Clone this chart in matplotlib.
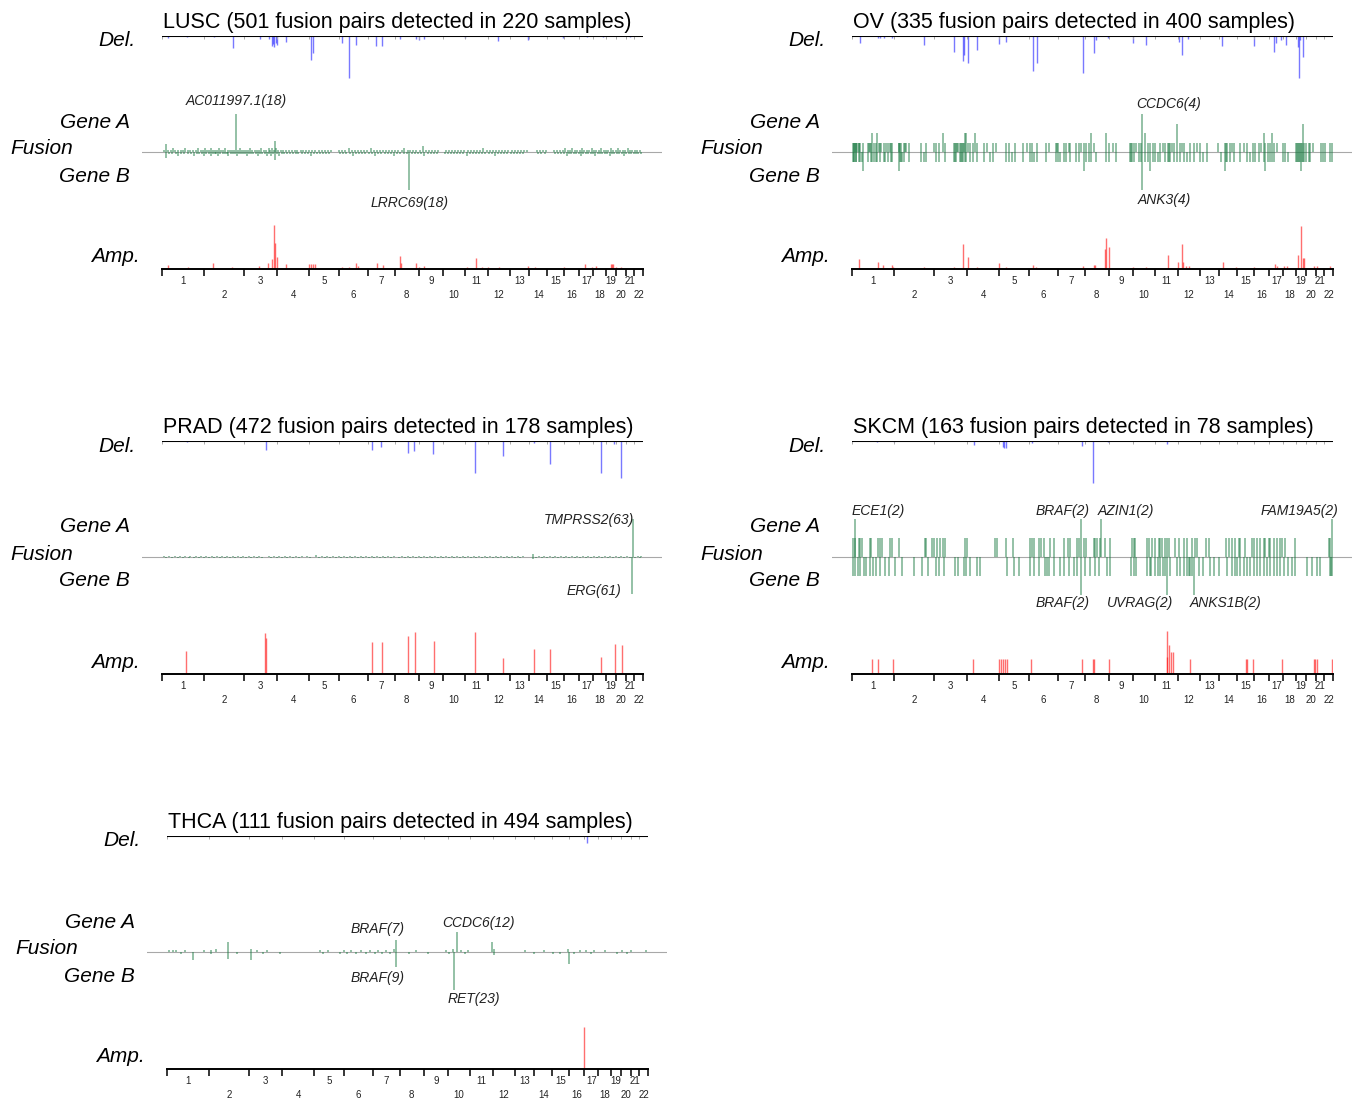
import numpy as np
import matplotlib
matplotlib.use("Agg")
import matplotlib.pyplot as plt

plt.rcParams['font.family'] = ['Liberation Sans', 'DejaVu Sans']

W, H = 1360, 1104

# hg19 chromosome lengths (Mb)
chrom_names = [str(i) for i in range(1, 23)]
chrom_len = [249.25, 243.20, 198.02, 191.15, 180.92, 171.12, 159.14, 146.36,
             141.21, 135.53, 135.01, 133.85, 115.17, 107.35, 102.53, 90.35,
             81.20, 78.08, 59.13, 63.03, 48.13, 51.30]

# ---------------- LUSC ----------------
lusc_title = "LUSC (501 fusion pairs detected in 220 samples)"
lusc_del = [(36, 2), (150, 1), (309, 1), (423, 12), (584, 3), (638, 3), (658, 10), (665, 8),
            (672, 11), (680, 7), (688, 9), (744, 6), (893, 24), (907, 17), (1077, 7), (1119, 42),
            (1163, 9), (1282, 10), (1320, 10), (1426, 3), (1521, 3), (1541, 4), (1569, 3),
            (1815, 2), (2014, 5), (2193, 4), (2403, 2), (2543, 1), (2643, 1), (2803, 1)]
lusc_amp = [(38, 4), (156, 2), (308, 6), (421, 2), (580, 3), (636, 6), (656, 10), (669, 44),
            (674, 26), (686, 12), (744, 5), (878, 5), (890, 5), (903, 5), (916, 5), (1077, 2),
            (1118, 2), (1161, 6), (1173, 3), (1287, 6), (1325, 4), (1425, 13), (1431, 6),
            (1521, 6), (1539, 2), (1572, 3), (1824, 2), (1880, 11), (1918, 2), (1950, 2),
            (2018, 2), (2195, 3), (2233, 2), (2409, 2), (2536, 5), (2573, 2), (2599, 3),
            (2687, 5), (2694, 5), (2700, 5), (2717, 2), (2750, 2)]
lusc_gene_a = [(10, 1), (24, 4), (37, 1), (52, 1), (66, 2), (79, 1), (95, 1), (112, 1), (126, 1),
               (141, 2), (158, 1), (171, 1), (189, 1), (204, 1), (219, 2), (233, 1), (248, 1),
               (259, 2), (271, 1), (284, 1), (296, 2), (309, 1), (320, 1), (333, 1), (345, 2),
               (356, 1), (369, 1), (381, 2), (394, 1), (407, 1), (420, 1), (432, 1), (443, 18),
               (455, 1), (467, 2), (478, 1), (490, 1), (503, 1), (517, 1), (529, 2), (541, 1),
               (556, 1), (568, 1), (581, 1), (597, 2), (612, 1), (626, 1), (640, 2), (651, 1),
               (663, 2), (675, 1), (680, 5), (686, 2), (699, 1), (714, 1), (729, 1), (746, 1),
               (762, 1), (779, 1), (797, 1), (813, 1), (832, 1), (848, 1), (866, 1), (884, 1),
               (903, 1), (921, 1), (940, 1), (958, 1), (977, 1), (996, 1), (1013, 1), (1062, 1),
               (1081, 1), (1099, 1), (1121, 2), (1140, 1), (1158, 1), (1177, 1), (1196, 1),
               (1214, 1), (1233, 1), (1252, 2), (1271, 1), (1290, 1), (1309, 1), (1327, 1),
               (1346, 1), (1364, 1), (1383, 1), (1401, 1), (1419, 1), (1438, 1), (1455, 2),
               (1474, 1), (1490, 1), (1509, 1), (1527, 1), (1546, 1), (1568, 3), (1584, 1),
               (1603, 1), (1622, 1), (1640, 1), (1659, 1), (1702, 1), (1721, 1), (1740, 1),
               (1758, 1), (1777, 1), (1796, 1), (1815, 1), (1834, 1), (1853, 1), (1871, 1),
               (1890, 1), (1909, 1), (1929, 2), (1948, 1), (1966, 1), (1985, 1), (2004, 1),
               (2023, 1), (2041, 1), (2060, 1), (2079, 1), (2098, 1), (2117, 1), (2136, 1),
               (2154, 1), (2173, 1), (2191, 1), (2250, 1), (2268, 1), (2287, 1), (2305, 1),
               (2352, 1), (2370, 1), (2388, 1), (2404, 1), (2420, 2), (2435, 1), (2449, 1),
               (2463, 2), (2478, 1), (2492, 1), (2507, 1), (2521, 2), (2535, 1), (2550, 1),
               (2564, 1), (2579, 2), (2593, 1), (2607, 1), (2621, 1), (2636, 2), (2650, 1),
               (2664, 1), (2679, 1), (2693, 2), (2708, 1), (2722, 1), (2736, 2), (2751, 1),
               (2765, 1), (2780, 1), (2794, 2), (2808, 1), (2823, 1), (2837, 1), (2851, 1),
               (2866, 1)]
lusc_gene_b = [(24, 3), (43, 1), (61, 1), (83, 1), (99, 2), (117, 1), (133, 1), (154, 1), (176, 1),
               (193, 2), (210, 1), (224, 1), (241, 1), (255, 2), (267, 1), (280, 1), (293, 2),
               (305, 1), (316, 1), (327, 1), (339, 2), (351, 1), (364, 1), (376, 1), (389, 1),
               (399, 2), (412, 1), (425, 1), (437, 1), (449, 2), (462, 1), (474, 1), (486, 1),
               (499, 1), (513, 2), (525, 1), (536, 1), (549, 1), (562, 1), (575, 2), (589, 1),
               (603, 1), (617, 1), (631, 2), (644, 1), (657, 2), (668, 1), (680, 4), (691, 1),
               (704, 2), (718, 1), (735, 1), (751, 1), (768, 1), (785, 1), (803, 1), (819, 1),
               (838, 1), (857, 1), (875, 1), (893, 2), (911, 1), (930, 1), (948, 1), (967, 1),
               (986, 1), (1005, 1), (1068, 1), (1087, 1), (1106, 1), (1126, 1), (1145, 2),
               (1164, 1), (1183, 1), (1202, 1), (1221, 1), (1240, 1), (1259, 1), (1279, 2),
               (1298, 1), (1317, 1), (1336, 1), (1355, 1), (1374, 1), (1393, 2), (1412, 1),
               (1431, 1), (1450, 1), (1468, 1), (1485, 18), (1500, 1), (1518, 1), (1537, 1),
               (1556, 1), (1575, 2), (1594, 1), (1612, 1), (1631, 1), (1650, 1), (1696, 1),
               (1715, 1), (1734, 1), (1752, 1), (1771, 1), (1790, 1), (1809, 1), (1828, 2),
               (1847, 1), (1865, 1), (1884, 1), (1903, 1), (1922, 1), (1941, 1), (1960, 1),
               (1979, 1), (1998, 2), (2016, 1), (2035, 1), (2054, 1), (2073, 1), (2092, 1),
               (2111, 1), (2130, 1), (2149, 1), (2168, 1), (2256, 1), (2275, 1), (2298, 1),
               (2359, 1), (2378, 1), (2396, 1), (2413, 1), (2428, 2), (2442, 1), (2457, 1),
               (2471, 1), (2485, 1), (2500, 1), (2514, 2), (2528, 1), (2543, 1), (2557, 1),
               (2572, 1), (2586, 1), (2600, 2), (2614, 1), (2629, 1), (2643, 1), (2657, 1),
               (2672, 1), (2686, 2), (2700, 1), (2715, 1), (2729, 1), (2744, 1), (2758, 1),
               (2772, 2), (2787, 1), (2801, 1), (2815, 1), (2830, 1), (2844, 1), (2858, 1),
               (2873, 1)]
lusc_labels = [("AC011997.1", 443, 18, "A"), ("LRRC69", 1485, 18, "B")]

# ---------------- OV ----------------
ov_title = "OV (335 fusion pairs detected in 400 samples)"
ov_del = [(46, 7), (156, 2), (168, 2), (190, 2), (239, 2), (429, 9), (612, 16), (664, 25),
          (672, 19), (694, 27), (748, 14), (883, 8), (923, 6), (1087, 35), (1111, 27),
          (1386, 37), (1452, 17), (1460, 4), (1535, 2), (1685, 7), (1761, 9), (1960, 6),
          (1974, 19), (2014, 3), (2219, 10), (2407, 10), (2528, 16), (2542, 7), (2572, 4),
          (2602, 9), (2672, 11), (2678, 42), (2686, 4), (2702, 21)]
ov_amp = [(43, 10), (156, 7), (184, 4), (240, 4), (247, 2), (429, 2), (613, 2), (664, 25),
          (694, 12), (749, 2), (883, 6), (921, 2), (1085, 4), (1105, 2), (1383, 3), (1451, 4),
          (1458, 4), (1516, 20), (1524, 31), (1539, 22), (1685, 2), (1761, 2), (1895, 14),
          (1955, 7), (1976, 25), (1981, 7), (2001, 3), (2021, 3), (2223, 7), (2303, 2),
          (2409, 2), (2536, 5), (2543, 3), (2586, 3), (2606, 3), (2674, 14), (2687, 43),
          (2700, 11), (2707, 11), (2770, 3), (2783, 3), (2864, 3)]
ov_gene_a = [(6, 1), (10, 1), (14, 1), (18, 1), (22, 1), (26, 1), (30, 1), (40, 1), (44, 1),
             (50, 1), (66, 1), (94, 1), (100, 1), (106, 1), (114, 1),
             (120, 2), (130, 1), (144, 1), (150, 2), (160, 1), (170, 1), (176, 1), (190, 1),
             (206, 1), (214, 1), (226, 1), (232, 1),
             (240, 1), (280, 1), (284, 1), (290, 1), (296, 1), (314, 1), (320, 1), (326, 1),
             (340, 1), (414, 1), (446, 1),
             (494, 1), (506, 1), (520, 1), (546, 2), (560, 1), (614, 1), (620, 1), (626, 1),
             (630, 1), (636, 1), (646, 1), (656, 1), (660, 1), (666, 1), (672, 1), (676, 2),
             (686, 2), (696, 1), (710, 1), (726, 1),
             (740, 2), (750, 1), (794, 1), (810, 1), (846, 1), (866, 1), (926, 1), (940, 1),
             (980, 1), (1026, 1), (1050, 1), (1066, 1), (1080, 1), (1110, 1), (1166, 1),
             (1180, 1), (1226, 1), (1230, 1), (1234, 1), (1270, 1), (1286, 1), (1300, 1),
             (1310, 1), (1346, 1), (1360, 1), (1374, 1), (1390, 1), (1406, 1), (1420, 1),
             (1436, 2), (1450, 1), (1526, 2), (1540, 1), (1566, 1), (1586, 1), (1670, 1),
             (1676, 1), (1680, 1), (1690, 1), (1706, 1), (1720, 1), (1734, 1), (1742, 4),
             (1760, 2), (1774, 1), (1790, 1), (1806, 1), (1820, 1), (1850, 1), (1866, 1),
             (1880, 1), (1894, 1), (1900, 1), (1906, 1), (1920, 1), (1934, 1), (1950, 3),
             (1966, 1), (1980, 1), (1994, 1), (2026, 1), (2054, 1), (2070, 1), (2090, 1),
             (2130, 1), (2194, 1), (2240, 1), (2246, 1), (2250, 1), (2266, 1), (2280, 1),
             (2294, 1), (2326, 1), (2350, 1), (2370, 1), (2406, 1), (2420, 1), (2440, 1),
             (2454, 1), (2470, 2), (2480, 1), (2494, 1), (2510, 1), (2520, 2), (2534, 1),
             (2550, 1), (2586, 1), (2600, 1), (2666, 1), (2670, 1), (2674, 1), (2680, 1),
             (2686, 1), (2694, 1), (2700, 1), (2706, 3), (2714, 1), (2726, 1), (2740, 1),
             (2750, 1), (2766, 1), (2814, 1), (2826, 1), (2840, 1), (2866, 1), (2880, 1)]
ov_gene_b = [(6, 1), (10, 1), (14, 1), (22, 1), (26, 1), (40, 1), (50, 1), (60, 1), (66, 2),
             (94, 1), (114, 1), (120, 1), (130, 1), (144, 1), (150, 1), (170, 1), (190, 1),
             (200, 1), (214, 1), (232, 1), (240, 1), (280, 2), (290, 1), (296, 1), (300, 1),
             (314, 1), (340, 1), (414, 1), (430, 1), (446, 1), (506, 1), (520, 1), (560, 1),
             (614, 1), (620, 1), (626, 1), (646, 1), (656, 1), (660, 1), (666, 1), (676, 1),
             (686, 1), (710, 1), (726, 1), (750, 1), (794, 1), (826, 1), (846, 1), (926, 1),
             (940, 1), (960, 1), (980, 1), (1026, 1), (1066, 1), (1080, 1), (1094, 1),
             (1110, 1), (1166, 1), (1226, 1), (1234, 1), (1250, 1), (1270, 1), (1286, 1),
             (1310, 1), (1346, 1), (1360, 1), (1390, 2), (1406, 1), (1420, 1), (1436, 1),
             (1466, 1), (1526, 1), (1540, 1), (1586, 1), (1670, 1), (1676, 1), (1680, 1),
             (1690, 1), (1720, 1), (1734, 1), (1742, 4), (1760, 1), (1774, 1), (1790, 2),
             (1806, 1), (1820, 1), (1834, 1), (1850, 1), (1880, 1), (1894, 1), (1900, 1),
             (1906, 1), (1934, 1), (1950, 1), (1966, 1), (1994, 1), (2010, 1), (2026, 1),
             (2054, 1), (2090, 1), (2106, 1), (2130, 1), (2214, 1), (2240, 2), (2246, 1),
             (2250, 1), (2266, 1), (2294, 1), (2326, 1), (2370, 1), (2386, 1), (2406, 1),
             (2420, 1), (2440, 1), (2470, 1), (2480, 2), (2494, 1), (2510, 1), (2520, 1),
             (2534, 1), (2586, 1), (2600, 1), (2614, 1), (2666, 1), (2670, 1), (2674, 1),
             (2680, 1), (2686, 1), (2694, 2), (2700, 1), (2706, 1), (2714, 1), (2726, 1),
             (2740, 1), (2750, 1), (2814, 1), (2826, 1), (2840, 1), (2866, 1), (2880, 1)]
ov_labels = [("CCDC6", 1742, 4, "A"), ("ANK3", 1742, 4, "B")]

# ---------------- PRAD ----------------
prad_title = "PRAD (472 fusion pairs detected in 178 samples)"
prad_del = [(150, 1), (624, 9), (1260, 9), (1310, 6), (1476, 12), (1510, 10), (1625, 13),
            (1874, 32), (2044, 15), (2229, 2), (2323, 23), (2632, 32), (2706, 3), (2752, 37)]
prad_amp = [(146, 23), (616, 41), (621, 36), (1256, 32), (1315, 32), (1476, 38), (1514, 42),
            (1627, 33), (1875, 42), (2044, 16), (2228, 25), (2326, 25), (2629, 17),
            (2712, 30), (2753, 29)]
prad_gene_a = [(12, 1), (45, 2), (78, 1), (110, 1), (139, 2), (171, 1), (205, 1), (236, 2),
               (262, 1), (298, 1), (330, 2), (361, 1), (392, 1), (425, 2), (457, 1), (489, 1),
               (520, 1), (553, 2), (585, 1), (640, 1), (672, 2), (705, 1), (738, 1), (770, 1),
               (805, 1), (843, 1), (870, 1), (927, 3), (960, 1), (993, 1), (1028, 2), (1061, 1),
               (1094, 1), (1127, 1), (1160, 2), (1193, 1), (1226, 1), (1259, 1), (1292, 2),
               (1325, 1), (1358, 1), (1391, 1), (1440, 1), (1474, 2), (1507, 1), (1540, 1),
               (1573, 1), (1606, 2), (1639, 1), (1672, 1), (1705, 1), (1738, 2), (1771, 1),
               (1804, 1), (1837, 1), (1870, 1), (1903, 2), (1936, 1), (1969, 1), (2002, 1),
               (2035, 1), (2068, 2), (2101, 1), (2134, 1), (2167, 1), (2229, 5), (2262, 1),
               (2295, 1), (2328, 2), (2361, 1), (2394, 1), (2427, 1), (2460, 2), (2493, 1),
               (2526, 1), (2559, 1), (2592, 2), (2625, 1), (2658, 1), (2691, 1), (2724, 2),
               (2757, 1), (2790, 1), (2824, 63), (2855, 1), (2876, 1)]
prad_gene_b = [(25, 1), (60, 1), (94, 2), (127, 1), (160, 1), (190, 1), (222, 2), (250, 1),
               (284, 1), (315, 1), (347, 2), (378, 1), (409, 1), (441, 1), (473, 2), (505, 1),
               (536, 1), (569, 1), (600, 1), (656, 2), (688, 1), (720, 1), (752, 2), (787, 1),
               (824, 1), (887, 1), (944, 1), (977, 2), (1011, 1), (1044, 1), (1077, 1),
               (1110, 2), (1143, 1), (1176, 1), (1209, 1), (1242, 2), (1275, 1), (1308, 1),
               (1341, 1), (1374, 1), (1424, 2), (1457, 1), (1490, 1), (1523, 1), (1556, 2),
               (1589, 1), (1622, 1), (1655, 1), (1688, 1), (1721, 2), (1754, 1), (1787, 1),
               (1820, 1), (1853, 2), (1886, 1), (1919, 1), (1952, 1), (1985, 1), (2018, 2),
               (2051, 1), (2084, 1), (2117, 1), (2150, 1), (2229, 4), (2245, 1), (2278, 2),
               (2311, 1), (2344, 1), (2377, 1), (2410, 1), (2443, 2), (2476, 1), (2509, 1),
               (2542, 1), (2575, 1), (2608, 2), (2641, 1), (2674, 1), (2707, 1), (2740, 1),
               (2773, 2), (2806, 1), (2821, 61), (2840, 1), (2868, 1)]
prad_labels = [("TMPRSS2", 2824, 63, "A"), ("ERG", 2821, 61, "B")]

# ---------------- SKCM ----------------
skcm_title = "SKCM (163 fusion pairs detected in 78 samples)"
skcm_del = [(150, 1), (249, 1), (728, 4), (903, 6), (913, 7), (923, 7), (1077, 2), (1376, 5),
            (1446, 42), (1535, 1), (1884, 3)]
skcm_amp = [(119, 15), (154, 15), (247, 15), (727, 15), (883, 15), (893, 15), (903, 15),
            (918, 15), (928, 15), (1072, 15), (1378, 15), (1443, 15), (1448, 15), (1539, 15),
            (1885, 17), (1889, 43), (1900, 29), (1910, 22), (1920, 22), (2023, 15), (2359, 15),
            (2366, 15), (2402, 15), (2578, 15), (2768, 15), (2775, 15), (2783, 15), (2874, 15)]
skcm_gene_a = [(6, 1), (16, 1), (21, 2), (40, 1), (50, 1), (60, 1), (106, 1), (114, 1),
               (154, 1), (166, 1), (180, 1), (226, 1), (240, 1), (280, 1), (436, 1), (446, 1),
               (480, 1), (494, 1), (510, 1), (530, 1), (546, 1), (560, 1), (680, 1), (690, 1),
               (860, 1), (870, 1), (924, 1), (966, 1), (1066, 1), (1080, 1), (1094, 1),
               (1120, 1), (1134, 1), (1150, 1), (1186, 1), (1210, 1), (1270, 1), (1296, 1),
               (1310, 1), (1350, 1), (1360, 1), (1374, 2), (1390, 1), (1406, 1), (1450, 1),
               (1460, 1), (1470, 1), (1486, 1), (1497, 2), (1520, 1), (1550, 1), (1680, 1),
               (1690, 1), (1700, 1), (1770, 1), (1780, 1), (1800, 1), (1820, 1), (1840, 1),
               (1850, 1), (1860, 1), (1880, 1), (1890, 1), (1900, 1), (1940, 1), (1960, 1),
               (1990, 1), (2010, 1), (2040, 1), (2060, 1), (2070, 1), (2126, 1), (2140, 1),
               (2246, 1), (2260, 1), (2280, 1), (2300, 1), (2320, 1), (2330, 1), (2360, 1),
               (2400, 1), (2410, 1), (2430, 1), (2450, 1), (2470, 1), (2480, 1), (2500, 1),
               (2510, 1), (2530, 1), (2550, 1), (2570, 1), (2580, 1), (2600, 1), (2660, 1),
               (2860, 1), (2868, 1), (2878, 2)]
skcm_gene_b = [(6, 1), (20, 1), (34, 1), (50, 1), (70, 1), (86, 1), (106, 1), (126, 1),
               (146, 1), (170, 1), (200, 1), (220, 1), (260, 1), (300, 1), (370, 1), (420, 1),
               (454, 1), (506, 1), (520, 1), (550, 1), (620, 1), (634, 1), (670, 1), (686, 1),
               (710, 1), (750, 1), (770, 1), (930, 1), (970, 1), (1000, 1), (1070, 1),
               (1090, 1), (1120, 1), (1160, 1), (1170, 1), (1180, 1), (1210, 1), (1250, 1),
               (1270, 1), (1300, 1), (1330, 1), (1350, 1), (1374, 2), (1400, 1), (1430, 1),
               (1460, 1), (1480, 1), (1530, 1), (1546, 1), (1676, 1), (1690, 1), (1706, 1),
               (1770, 1), (1786, 1), (1794, 1), (1820, 1), (1834, 1), (1850, 1), (1866, 1),
               (1880, 1), (1891, 2), (1910, 1), (1950, 1), (1970, 1), (1990, 1), (2010, 1),
               (2020, 1), (2030, 1), (2040, 1), (2050, 2), (2080, 1), (2106, 1), (2150, 1),
               (2170, 1), (2200, 1), (2250, 1), (2280, 1), (2300, 1), (2310, 1), (2330, 1),
               (2350, 1), (2370, 1), (2390, 1), (2410, 1), (2430, 1), (2450, 1), (2470, 1),
               (2490, 1), (2510, 1), (2530, 1), (2550, 1), (2570, 1), (2590, 1), (2614, 1),
               (2640, 1), (2660, 1), (2730, 1), (2760, 1), (2790, 1), (2810, 1), (2870, 1),
               (2875, 1), (2880, 1)]
skcm_labels = [("ECE1", 21, 2, "A"), ("BRAF", 1374, 2, "A"), ("AZIN1", 1497, 2, "A"),
               ("FAM19A5", 2878, 2, "A"), ("BRAF", 1374, 2, "B"), ("UVRAG", 1891, 2, "B"),
               ("ANKS1B", 2050, 2, "B")]

# ---------------- THCA ----------------
thca_title = "THCA (111 fusion pairs detected in 494 samples)"
thca_del = [(2513, 7)]
thca_amp = [(2497, 42)]
thca_gene_a = [(15, 1), (35, 1), (56, 1), (108, 1), (222, 1), (263, 1), (294, 2), (367, 6),
               (502, 2), (543, 1), (601, 1), (916, 1), (968, 1), (1061, 1), (1107, 1),
               (1165, 1), (1217, 1), (1269, 1), (1314, 1), (1362, 2), (1374, 7), (1497, 1),
               (1673, 1), (1714, 2), (1742, 12), (1766, 1), (1808, 1), (1953, 6), (1963, 2),
               (2150, 1), (2264, 1), (2405, 2), (2481, 1), (2513, 1), (2564, 1), (2627, 1),
               (2730, 1), (2782, 1), (2875, 1)]
thca_gene_b = [(83, 1), (155, 5), (263, 1), (367, 4), (419, 1), (502, 5), (574, 1), (678, 1),
               (937, 1), (1041, 1), (1082, 1), (1134, 1), (1196, 1), (1248, 1), (1289, 1),
               (1341, 1), (1374, 9), (1455, 1), (1569, 1), (1694, 1), (1723, 23), (1787, 1),
               (1963, 2), (2202, 1), (2316, 1), (2357, 1), (2410, 7), (2440, 1), (2544, 1),
               (2699, 1), (2761, 1)]
thca_labels = [("BRAF", 1374, 7, "A"), ("CCDC6", 1742, 12, "A"), ("BRAF", 1374, 9, "B"),
               ("RET", 1723, 23, "B")]

# label placement: ha, dx(px), dy(px, up)
label_place = {
    "LUSC": [("center", 0, 13), ("center", 0, -13)],
    "OV": [("left", -6, 10), ("left", -5, -10)],
    "PRAD": [("right", 1, -1), ("right", -11, 3)],
    "SKCM": [("left", -4, 8), ("right", 9, 8), ("left", -4, 8), ("right", 7, 8),
             ("right", 9, -8), ("right", 6, -8), ("left", -4, -8)],
    "THCA": [("right", 9, 11), ("left", -15, 9), ("right", 9, -11), ("left", -6, -9)],
}

DEL_C = "#2020ff"
AMP_C = "#ff1010"
FUS_C = "#1c7c44"

bounds = np.concatenate([[0], np.cumsum(chrom_len)])
centers = (bounds[:-1] + bounds[1:]) / 2
G = bounds[-1]

fig = plt.figure(figsize=(W / 100, H / 100), dpi=100)
fig.patch.set_facecolor("white")


def rect(x0, y0, x1, y1):
    return [x0 / W, 1 - y1 / H, (x1 - x0) / W, (y1 - y0) / H]


def side_text(x, y, s, ha):
    fig.text(x / W, 1 - y / H, s, ha=ha, va="center", fontsize=15, style="italic")


def draw_panel(ox, oy, key, title, dels, gene_a, gene_b, amps, labels):
    # deletion track
    ax = fig.add_axes(rect(ox + 162, oy + 36, ox + 643, oy + 82))
    ax.set_xlim(0, G)
    ax.set_ylim(-46, 0)
    ax.axis("off")
    p, h = zip(*dels)
    ax.vlines(p, -np.array(h), 0, color=DEL_C, lw=1.0, alpha=0.6)
    ax.vlines(bounds, -2.5, 0, color="#aaaaaa", lw=0.7)
    ax.axhline(0, color="black", lw=1.5)
    fig.text((ox + 163) / W, 1 - (oy + 28) / H, title, fontsize=15.5, va="baseline")

    # fusion track
    fmax = max(c for _, c in gene_a + gene_b)
    lim = fmax * 40 / 38
    ax = fig.add_axes(rect(ox + 142, oy + 112, ox + 662, oy + 192))
    ax.set_xlim(-G * 20 / 481, G * 501 / 481)
    ax.set_ylim(-lim, lim)
    ax.axis("off")
    ax.axhline(0, color="#a8a8a8", lw=0.8)
    pa, ca = zip(*gene_a)
    ax.vlines(pa, 0, ca, color=FUS_C, lw=1.1, alpha=0.6)
    pb, cb = zip(*gene_b)
    ax.vlines(pb, -np.array(cb), 0, color=FUS_C, lw=1.1, alpha=0.6)
    for (name, pos, cnt, side), (ha, dx, dy) in zip(labels, label_place[key]):
        y = cnt if side == "A" else -cnt
        ax.annotate(f"{name}({cnt})", xy=(pos, y), xytext=(dx * 0.72, dy * 0.72),
                    textcoords="offset points", ha=ha, va="center", fontsize=10,
                    style="italic", color="#222222", annotation_clip=False)

    # amplification track + chromosome axis
    ax = fig.add_axes(rect(ox + 162, oy + 222, ox + 643, oy + 269))
    ax.set_xlim(0, G)
    ax.set_ylim(0, 47)
    for s in ["top", "left", "right"]:
        ax.spines[s].set_visible(False)
    ax.spines["bottom"].set_linewidth(1.4)
    ax.set_yticks([])
    ax.set_xticks(bounds)
    ax.set_xticklabels([])
    ax.tick_params(axis="x", direction="out", length=5, width=1.1)
    ax.patch.set_alpha(0)
    p, h = zip(*amps)
    ax.vlines(p, 0, h, color=AMP_C, lw=1.0, alpha=0.6)
    for i, (c, name) in enumerate(zip(centers, chrom_names)):
        off = -12 if i % 2 == 0 else -26
        ax.annotate(name, xy=(c, 0), xycoords=("data", "axes fraction"),
                    xytext=(0, off * 0.72), textcoords="offset points",
                    ha="center", va="center", fontsize=7, color="#222222")

    # left labels
    side_text(ox + 135, oy + 41, "Del.", "right")
    side_text(ox + 130, oy + 122, "Gene A", "right")
    side_text(ox + 10, oy + 149, "Fusion", "left")
    side_text(ox + 130, oy + 176, "Gene B", "right")
    side_text(ox + 140, oy + 257, "Amp.", "right")


draw_panel(0, 0, "LUSC", lusc_title, lusc_del, lusc_gene_a, lusc_gene_b, lusc_amp, lusc_labels)
draw_panel(690, 0, "OV", ov_title, ov_del, ov_gene_a, ov_gene_b, ov_amp, ov_labels)
draw_panel(0, 405, "PRAD", prad_title, prad_del, prad_gene_a, prad_gene_b, prad_amp, prad_labels)
draw_panel(690, 405, "SKCM", skcm_title, skcm_del, skcm_gene_a, skcm_gene_b, skcm_amp, skcm_labels)
draw_panel(5, 800, "THCA", thca_title, thca_del, thca_gene_a, thca_gene_b, thca_amp, thca_labels)

fig.savefig("out.png", dpi=100, facecolor="white")
